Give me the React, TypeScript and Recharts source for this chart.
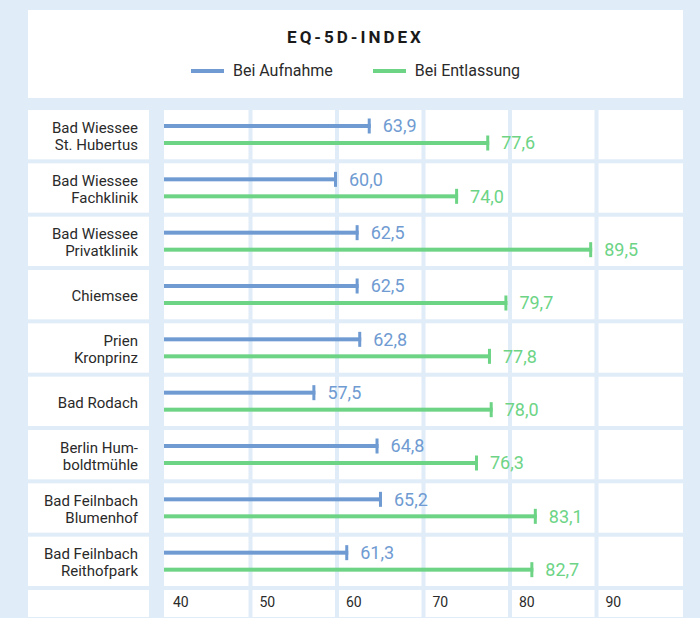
import React from 'react';
import { Bar, CartesianGrid, ComposedChart, LabelList, XAxis, YAxis } from 'recharts';

const clinics = [
  'Bad Wiessee\nSt. Hubertus',
  'Bad Wiessee\nFachklinik',
  'Bad Wiessee\nPrivatklinik',
  'Chiemsee',
  'Prien\nKronprinz',
  'Bad Rodach',
  'Berlin Hum-\nboldtmühle',
  'Bad Feilnbach\nBlumenhof',
  'Bad Feilnbach\nReithofpark',
];
const aufnahme = [63.9, 60.0, 62.5, 62.5, 62.8, 57.5, 64.8, 65.2, 61.3];
const entlassung = [77.6, 74.0, 89.5, 79.7, 77.8, 78.0, 76.3, 83.1, 82.7];
const xTicks = [40, 50, 60, 70, 80, 90];
const xDomain: [number, number] = [40, 100];
const seriesNames = ['Bei Aufnahme', 'Bei Entlassung'];

const BG = '#e0ecf8';
const BLUE = '#6f9bd2';
const GREEN = '#6dd486';
const TEXT = '#2a2a2a';
const FONT = 'Roboto, "Noto Sans", sans-serif';

const W = 700;
const H = 618;
const TOP = 108;
const AXIS_H = 30;
const Y_W = 164;
const RIGHT = 17;
const PLOT_W = W - Y_W - RIGHT;
const STEP = PLOT_W / (xDomain[1] - xDomain[0]) * 10;

const data = clinics.map((name, i) => ({ name, a: aufnahme[i], e: entlassung[i] }));

const fmt = (v: any) => Number(v).toFixed(1).replace('.', ',');

function CapBar(props: any) {
  const { x, y, width, height, fill } = props;
  if (width == null || isNaN(width)) return null;
  const cy = y + height / 2;
  return (
    <g>
      <rect x={x} y={y} width={width} height={height} fill={fill} />
      <rect x={x + width - 3} y={cy - 7.5} width={3} height={15} fill={fill} />
    </g>
  );
}

function ClinicTick(props: any) {
  const { y, payload } = props;
  const band = (H - TOP - AXIS_H) / clinics.length;
  const lines = String(payload.value).split('\n');
  const start = y + 1.5 - ((lines.length - 1) * 17) / 2;
  return (
    <g>
      <rect x={28} y={y - band / 2 + 2} width={121} height={band - 4} fill="#fff" />
      <text x={138} y={start} textAnchor="end" dominantBaseline="central" fontSize={15} fill={TEXT} fontFamily={FONT}>
        {lines.map((l, i) => (
          <tspan key={i} x={138} dy={i === 0 ? 0 : 17}>{l}</tspan>
        ))}
      </text>
    </g>
  );
}

function ValueTick(props: any) {
  const { x, payload, index } = props;
  const axisTop = H - AXIS_H;
  const left = index === 0 ? x : x + 2;
  const right = index === xTicks.length - 1 ? x + STEP : x + STEP - 2;
  return (
    <g>
      <rect x={left} y={axisTop + 2} width={right - left} height={27} fill="#fff" />
      <text x={x + 9} y={axisTop + 19} fontSize={14} fill={TEXT} fontFamily={FONT}>{payload.value}</text>
    </g>
  );
}

export default function App() {
  return (
    <div style={{ position: 'absolute', left: 0, top: 0, width: W, height: H, background: BG, overflow: 'hidden', fontFamily: FONT }}>
      <div style={{ position: 'absolute', left: 28, top: 10, width: 655, height: 88, background: '#fff' }}>
        <div style={{ position: 'absolute', top: 17, width: '100%', textAlign: 'center', fontSize: 17, fontWeight: 700, letterSpacing: 3, color: '#1a1a1a' }}>
          EQ-5D-INDEX
        </div>
        <div style={{ position: 'absolute', top: 51, width: '100%', display: 'flex', justifyContent: 'center', alignItems: 'center', fontSize: 16, color: TEXT }}>
          {seriesNames.map((n, i) => (
            <div key={n} style={{ display: 'flex', alignItems: 'center', marginLeft: i === 0 ? 0 : 40 }}>
              <span style={{ display: 'inline-block', width: 33, height: 4, background: i === 0 ? BLUE : GREEN, marginRight: 9 }} />
              <span>{n}</span>
            </div>
          ))}
        </div>
      </div>
      <div style={{ position: 'absolute', left: 28, top: H - AXIS_H + 2, width: 121, height: 27, background: '#fff' }} />
      <div style={{ position: 'absolute', left: 0, top: 0 }}>
        <ComposedChart
          layout="vertical"
          width={W}
          height={H}
          data={data}
          margin={{ top: TOP, right: RIGHT, bottom: 0, left: 0 }}
          barSize={4}
          barGap={13}
        >
          <CartesianGrid
            fill="#fff"
            fillOpacity={1}
            stroke={BG}
            strokeWidth={4}
            horizontalCoordinatesGenerator={({ offset }: any) =>
              Array.from({ length: clinics.length + 1 }, (_, i) => offset.top + (i * offset.height) / clinics.length)
            }
            verticalCoordinatesGenerator={({ xAxis, offset }: any) =>
              xTicks.slice(1).map((v) =>
                xAxis && typeof xAxis.scale === 'function'
                  ? xAxis.scale(v)
                  : offset.left + ((v - xDomain[0]) / (xDomain[1] - xDomain[0])) * offset.width
              )
            }
          />
          <XAxis type="number" domain={xDomain} ticks={xTicks} height={AXIS_H} axisLine={false} tickLine={false} tick={<ValueTick />} interval={0} />
          <YAxis type="category" dataKey="name" width={Y_W} axisLine={false} tickLine={false} tick={<ClinicTick />} interval={0} />
          <Bar dataKey="a" name={seriesNames[0]} fill={BLUE} shape={<CapBar />} isAnimationActive={false}>
            <LabelList dataKey="a" position="right" offset={12} formatter={fmt} fill={BLUE} fontSize={18} fontFamily={FONT} />
          </Bar>
          <Bar dataKey="e" name={seriesNames[1]} fill={GREEN} shape={<CapBar />} isAnimationActive={false}>
            <LabelList dataKey="e" position="right" offset={12} formatter={fmt} fill={GREEN} fontSize={18} fontFamily={FONT} />
          </Bar>
        </ComposedChart>
      </div>
    </div>
  );
}
